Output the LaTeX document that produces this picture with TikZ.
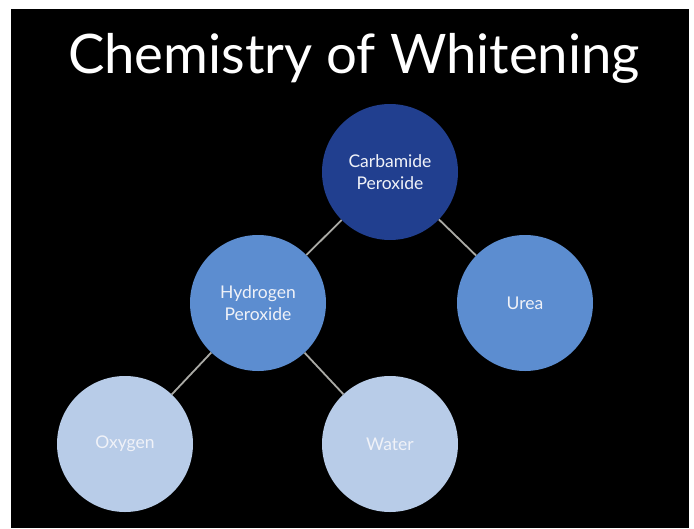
\documentclass[tikz,border=0pt]{standalone}
\usepackage{fontspec}
\setmainfont{Lato}
\definecolor{darkblue}{RGB}{33,63,143}
\definecolor{midblue}{RGB}{92,141,208}
\definecolor{lightblue}{RGB}{184,204,232}
\definecolor{linegrey}{RGB}{170,170,165}
\definecolor{softwhite}{RGB}{240,242,248}
\begin{document}
\begin{tikzpicture}[x=1pt,y=-1pt,
  bubble/.style={circle,minimum size=136pt,inner sep=0pt,text=softwhite,
    font=\fontsize{17.5}{22}\selectfont,align=center},
  link/.style={draw=linegrey,line width=1.8pt}]
\useasboundingbox (0,0) rectangle (694,528);
\fill[white] (0,0) rectangle (694,528);
\fill[black] (11,9) rectangle (689,528);
\node[text=white,font=\fontsize{54.5}{60}\selectfont,anchor=base] (title) at (354,73) {Chemistry of Whitening};
\node[bubble,fill=darkblue] (carb) at (390,172) {Carbamide\\Peroxide};
\node[bubble,fill=midblue] (hyd) at (258,303) {Hydrogen\\Peroxide};
\node[bubble,fill=midblue] (urea) at (525,303) {Urea};
\node[bubble,fill=lightblue] (oxy) at (125,444) {Oxygen};
\node[bubble,fill=lightblue] (water) at (390,444) {Water};
\draw[link] (carb) -- (hyd);
\draw[link] (carb) -- (urea);
\draw[link] (hyd) -- (oxy);
\draw[link] (hyd) -- (water);
\end{tikzpicture}
\end{document}
